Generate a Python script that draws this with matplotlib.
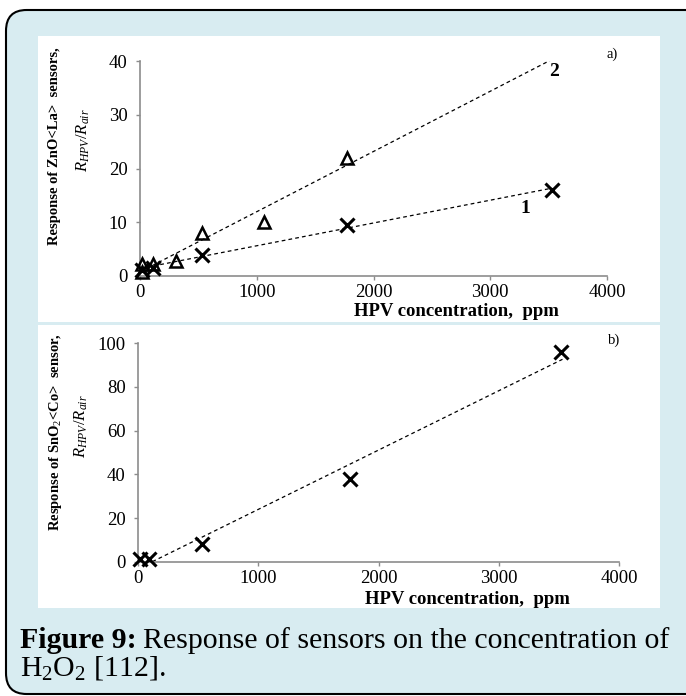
import numpy as np
import matplotlib.pyplot as plt
from matplotlib.patches import FancyBboxPatch, Rectangle

plt.rcParams['mathtext.fontset'] = 'custom'
plt.rcParams['mathtext.it'] = 'Liberation Serif:italic'
plt.rcParams['mathtext.rm'] = 'Liberation Serif'
plt.rcParams['mathtext.bf'] = 'Liberation Serif:bold'

# ZnO<La> sensors, curve 1 (crosses) and curve 2 (triangles)
zno_x1 = [20, 110, 530, 1770, 3530]
zno_y1 = [1.2, 1.5, 4.0, 9.5, 16.0]
zno_x2 = [20, 20, 110, 310, 530, 1060, 1770]
zno_y2 = [2.3, 0.8, 2.2, 2.8, 8.0, 10.0, 22.0]

# SnO2<Co> sensor
sno_x = [20, 90, 530, 1760, 3520]
sno_y = [1.5, 1.5, 8.0, 38.0, 96.0]

xticks = [0, 1000, 2000, 3000, 4000]

W, H = 686, 696
fig = plt.figure(figsize=(W / 100, H / 100), dpi=100)
fig.patch.set_facecolor('white')

def px(x0, y0, x1, y1):
    # pixel box -> figure fraction [left, bottom, width, height]
    return [x0 / W, 1 - y1 / H, (x1 - x0) / W, (y1 - y0) / H]

# light blue frame with rounded corners
frame = FancyBboxPatch((6 / W, 2 / H), 700 / W, 684 / H,
                       boxstyle="round,pad=0,rounding_size=0.03",
                       transform=fig.transFigure, facecolor='#d8ecf1',
                       edgecolor='black', linewidth=1.5, zorder=0)
fig.patches.append(frame)
for box in [(38, 36, 660, 322), (38, 325, 660, 608)]:
    l, b, w, h = px(*box)
    fig.patches.append(Rectangle((l, b), w, h, transform=fig.transFigure,
                                 facecolor='white', edgecolor='none', zorder=0.5))

serif = 'Liberation Serif'
grey = '#8c8c8c'

def style_axes(ax, ymax, ystep):
    ax.set_zorder(2)
    ax.set_facecolor('none')
    for s in ['top', 'right']:
        ax.spines[s].set_visible(False)
    for s in ['left', 'bottom']:
        ax.spines[s].set_color(grey)
        ax.spines[s].set_linewidth(1.2)
    ax.set_xlim(0, 4000)
    ax.set_ylim(0, ymax)
    ax.set_xticks(xticks)
    ax.set_yticks(np.arange(0, ymax + 1, ystep))
    ax.tick_params(direction='out', length=3, color=grey, width=1, labelsize=13.5)
    ax.tick_params(axis='x', pad=3)
    ax.tick_params(axis='y', pad=6)
    for lab in ax.get_xticklabels() + ax.get_yticklabels():
        lab.set_fontfamily(serif)

def trend(ax, x, y, x0, x1):
    k, b = np.polyfit(x, y, 1)
    xs = np.array([x0, x1])
    ax.plot(xs, k * xs + b, ls=(0, (3, 2.5)), color='black', lw=0.9, zorder=2)

# panel a
ax1 = fig.add_axes(px(140, 61, 607, 276))
style_axes(ax1, 40, 10)
trend(ax1, zno_x2, zno_y2, 0, 3530)
trend(ax1, zno_x1, zno_y1, 0, 3530)
ax1.plot(zno_x2, zno_y2, ls='none', marker='^', ms=9, mfc='none', mec='black',
         mew=1.8, clip_on=False, zorder=3)
ax1.plot(zno_x1, zno_y1, ls='none', marker='x', ms=9.5, mec='black', mew=2.2,
         clip_on=False, zorder=3)
ax1.text(3500, 38, '2', fontfamily=serif, fontweight='bold', fontsize=14,
         ha='left', va='center')
ax1.text(3260, 12.6, '1', fontfamily=serif, fontweight='bold', fontsize=14,
         ha='left', va='center')
fig.text(612 / W, 1 - 54 / H, 'a)', fontfamily=serif, fontsize=10.5, ha='center', va='center')
fig.text(55 / W, 1 - 146 / H, 'Response of ZnO<La>  sensors,', fontfamily=serif,
         fontweight='bold', fontsize=10.5, rotation=90, ha='center', va='center')
fig.text(83 / W, 1 - 140 / H, r'$R_{HPV}/R_{air}$', fontfamily=serif,
         fontsize=12, rotation=90, ha='center', va='center')
fig.text(456 / W, 1 - 311 / H, 'HPV concentration,  ppm', fontfamily=serif,
         fontweight='bold', fontsize=13.5, ha='center', va='center')

# panel b
ax2 = fig.add_axes(px(138, 343, 619, 562))
style_axes(ax2, 100, 20)
trend(ax2, sno_x, sno_y, 120, 3530)
ax2.plot(sno_x, sno_y, ls='none', marker='x', ms=9.5, mec='black', mew=2.2,
         clip_on=False, zorder=3)
fig.text(614 / W, 1 - 340 / H, 'b)', fontfamily=serif, fontsize=10.5, ha='center', va='center')
fig.text(56 / W, 1 - 432 / H, 'Response of SnO$_2$<Co>  sensor,', fontfamily=serif,
         fontweight='bold', fontsize=10.5, rotation=90, ha='center', va='center')
fig.text(81 / W, 1 - 426 / H, r'$R_{HPV}/R_{air}$', fontfamily=serif,
         fontsize=12, rotation=90, ha='center', va='center')
fig.text(467 / W, 1 - 600 / H, 'HPV concentration,  ppm', fontfamily=serif,
         fontweight='bold', fontsize=13.5, ha='center', va='center')

# caption: bold lead-in, then the rest placed right after it
cap_size = 21.5
renderer = fig.canvas.get_renderer()
lead = fig.text(20 / W, 1 - 648 / H, 'Figure 9:', fontfamily=serif, fontweight='bold',
                fontsize=cap_size, ha='left', va='baseline')
lead_end = lead.get_window_extent(renderer).x1
fig.text((lead_end + 6) / W, 1 - 648 / H, 'Response of sensors on the concentration of',
         fontfamily=serif, fontsize=cap_size, ha='left', va='baseline')
fig.text(20 / W, 1 - 675 / H, r'H$_2$O$_2$ [112].', fontfamily=serif, fontsize=cap_size,
         ha='left', va='baseline')

fig.savefig('out.png', dpi=100)
